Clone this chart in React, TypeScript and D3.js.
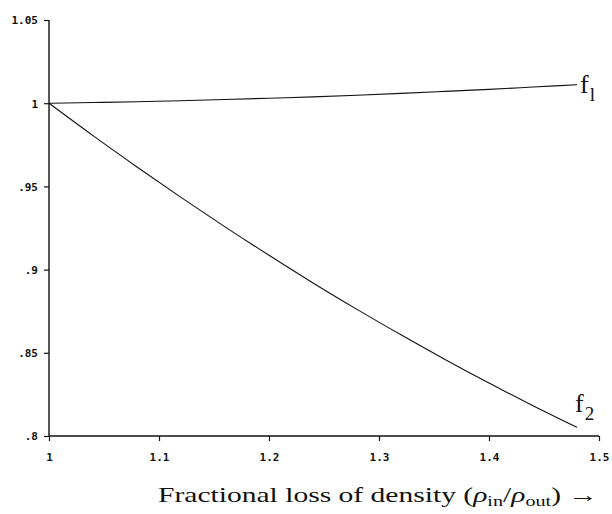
import React, { useEffect, useRef } from "react";
import * as d3 from "d3";

// density ratio rho_in / rho_out
const xs = [1.0, 1.04, 1.08, 1.12, 1.16, 1.2, 1.24, 1.28, 1.32, 1.36, 1.4, 1.44, 1.48];
const f1 = [1.0, 1.0004, 1.0009, 1.0015, 1.0022, 1.003, 1.0038, 1.0048, 1.0059, 1.0071, 1.0083, 1.0097, 1.0111];
const f2 = [1.0, 0.9805, 0.9617, 0.9434, 0.9257, 0.9086, 0.892, 0.8761, 0.8608, 0.846, 0.8318, 0.8182, 0.8052];

const xTicks = [1, 1.1, 1.2, 1.3, 1.4, 1.5];
const yTicks = [0.8, 0.85, 0.9, 0.95, 1, 1.05];

export default function App() {
    const ref = useRef<SVGSVGElement>(null);

    useEffect(() => {
        const svg = d3.select(ref.current);
        svg.selectAll("*").remove();

        const x = d3.scaleLinear().domain([1, 1.5]).range([49, 599]);
        const y = d3.scaleLinear().domain([0.8, 1.05]).range([436, 20]);

        const fmtY = (d) => String(+d.toFixed(2)).replace(/^0\./, ".");

        const xAxis = svg
            .append("g")
            .attr("transform", `translate(0,${y(0.8)})`)
            .call(d3.axisBottom(x).tickValues(xTicks).tickSize(5).tickPadding(12).tickFormat((d) => String(d)));
        const yAxis = svg
            .append("g")
            .attr("transform", `translate(${x(1)},0)`)
            .call(d3.axisLeft(y).tickValues(yTicks).tickSize(5).tickPadding(6).tickFormat(fmtY));

        [xAxis, yAxis].forEach((a) => {
            a.select(".domain").attr("stroke", "#111").attr("stroke-width", 1.4);
            a.selectAll(".tick line").attr("stroke", "#111").attr("stroke-width", 1.2);
            a.selectAll("text")
                .attr("fill", "#111")
                .attr("font-family", "DejaVu Sans Mono")
                .attr("font-weight", "bold")
                .attr("font-size", 11);
        });
        xAxis.select(".domain").attr("d", `M${x(1)},0H${x(1.5)}`);
        yAxis.select(".domain").attr("d", `M0,${y(0.8)}V${y(1.05)}`);
        yAxis.selectAll(".tick text").attr("dy", "0.35em");

        const line = d3
            .line()
            .x((d) => x(d[0]))
            .y((d) => y(d[1]))
            .curve(d3.curveMonotoneX);

        [f1, f2].forEach((s) => {
            svg.append("path")
                .datum(xs.map((v, i) => [v, s[i]]))
                .attr("fill", "none")
                .attr("stroke", "#111")
                .attr("stroke-width", 1.1)
                .attr("d", line);
        });

        const lab = (px, py, sub) => {
            const t = svg
                .append("text")
                .attr("x", px)
                .attr("y", py)
                .attr("font-family", "Liberation Serif")
                .attr("font-size", 26)
                .attr("fill", "#111");
            t.append("tspan").text("f");
            t.append("tspan").attr("font-size", 19).attr("dx", 1).attr("dy", 8).text(sub);
        };
        lab(x(1.48) + 3, y(f1[f1.length - 1]) + 8, "l");
        lab(x(1.48) - 2, y(f2[f2.length - 1]) - 15, "2");

        const xl = svg
            .append("text")
            .attr("x", 158)
            .attr("y", 502)
            .attr("font-family", "Liberation Serif")
            .attr("font-size", 22)
            .attr("textLength", 440)
            .attr("lengthAdjust", "spacingAndGlyphs")
            .attr("fill", "#111");
        xl.append("tspan").text("Fractional loss of density (");
        xl.append("tspan").attr("font-style", "italic").text("ρ");
        xl.append("tspan").attr("font-size", 15).attr("dy", 4).text("in");
        xl.append("tspan").attr("dy", -4).text("/");
        xl.append("tspan").attr("font-style", "italic").text("ρ");
        xl.append("tspan").attr("font-size", 15).attr("dy", 4).text("out");
        xl.append("tspan").attr("dy", -4).text(") →");
    }, []);

    return (
        <svg
            ref={ref}
            width={612}
            height={514}
            style={{ position: "absolute", left: 0, top: 0, background: "#fff" }}
        ></svg>
    );
}
